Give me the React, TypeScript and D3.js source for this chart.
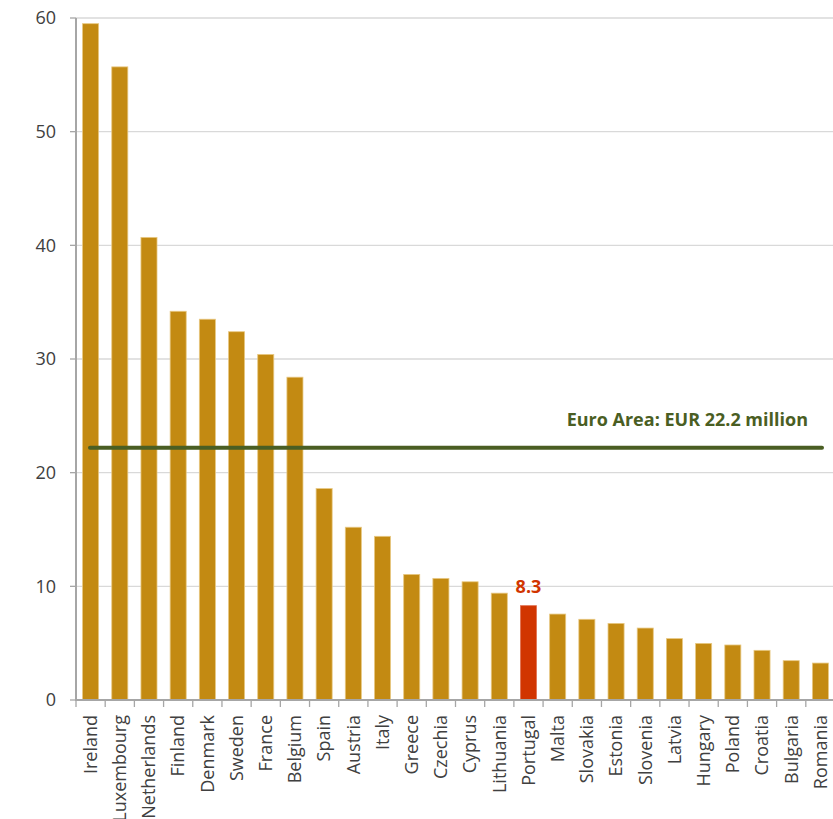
import React from "react";
import * as d3 from "d3";

const countries = ["Ireland","Luxembourg","Netherlands","Finland","Denmark","Sweden","France","Belgium","Spain","Austria","Italy","Greece","Czechia","Cyprus","Lithuania","Portugal","Malta","Slovakia","Estonia","Slovenia","Latvia","Hungary","Poland","Croatia","Bulgaria","Romania"];
const values = [59.5,55.7,40.7,34.2,33.5,32.4,30.4,28.4,18.6,15.2,14.4,11.05,10.7,10.4,9.4,8.3,7.56,7.1,6.74,6.33,5.4,4.98,4.84,4.37,3.46,3.25];
const yTicks = [0,10,20,30,40,50,60];
const euroArea = 22.2;
const euroLabel = "Euro Area: EUR 22.2 million";
const highlight = "Portugal";
const highlightLabel = "8.3";

const W = 833, H = 819;
const left = 76, right = 835, top = 18, bottom = 700;

export default function App() {
  const x = d3.scaleBand<string>().domain(countries).range([left, right]).paddingInner(0.45).paddingOuter(0.225);
  const xt = d3.scaleBand<string>().domain(countries).range([left, right]);
  const y = d3.scaleLinear().domain([0, 60]).range([bottom, top]);
  const font = "'Open Sans', sans-serif";
  const hx = (x(highlight) ?? 0) + x.bandwidth() / 2;
  const hi = countries.indexOf(highlight);
  return (
    <svg width={W} height={H} style={{ position: "absolute", left: 0, top: 0, background: "#fff" }} fontFamily={font}>
      {yTicks.map(t => (
        <g key={t}>
          {t > 0 && <line x1={left} x2={W} y1={y(t)} y2={y(t)} stroke="#d9d9d9" strokeWidth={1.3} />}
          <line x1={70} x2={left} y1={y(t)} y2={y(t)} stroke="#a6a6a6" strokeWidth={1.3} />
          <text x={56} y={y(t)} dy="0.35em" textAnchor="end" fontSize={18} fill="#404040">{t}</text>
        </g>
      ))}
      {countries.map((c, i) => (
        <rect key={c} x={x(c)} y={y(values[i])} width={x.bandwidth()} height={y(0) - y(values[i])}
          fill={c === highlight ? "#d13500" : "#c38a12"} stroke={c === highlight ? "#e07050" : "#e8c882"} strokeWidth={0.8} />
      ))}
      <line x1={left} x2={left} y1={top} y2={bottom + 1} stroke="#a6a6a6" strokeWidth={2} />
      <line x1={left} x2={W} y1={bottom} y2={bottom} stroke="#a6a6a6" strokeWidth={2} />
      {countries.map(c => (
        <line key={c} x1={xt(c)} x2={xt(c)} y1={bottom} y2={bottom + 7} stroke="#a6a6a6" strokeWidth={1.3} />
      ))}
      {countries.map(c => {
        const cx = (x(c) ?? 0) + x.bandwidth() / 2;
        return (
          <text key={c} transform={`translate(${cx},${715}) rotate(-90)`} textAnchor="end" dy="0.35em" fontSize={18} fill="#404040">{c}</text>
        );
      })}
      <line x1={90} x2={822} y1={y(euroArea)} y2={y(euroArea)} stroke="#4a5e23" strokeWidth={4} strokeLinecap="round" />
      <text x={808} y={426} textAnchor="end" fontSize={18} fontWeight="bold" fill="#4a5e23">{euroLabel}</text>
      <text x={hx} y={y(values[hi]) - 13} textAnchor="middle" fontSize={18} fontWeight="bold" fill="#d13500">{highlightLabel}</text>
    </svg>
  );
}
